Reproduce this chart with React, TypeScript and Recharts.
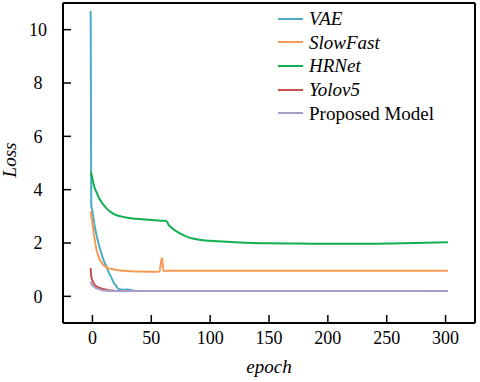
import React from "react";
import {
  LineChart,
  Line,
  XAxis,
  YAxis,
  Legend,
  ReferenceLine,
} from "recharts";

// epochs (curves start just left of 0, end just past 300)
const epochs = [
  -1.5, -1, 0, 1, 2, 3, 4, 6, 8, 10, 12, 14, 16, 18, 20, 22, 24, 27, 30, 34, 40,
  50, 57, 59, 60.5, 63, 64.5, 67, 71, 75, 80, 85, 92, 100, 125, 150, 175, 200,
  225, 250, 275, 302,
];

const vae = [
  10.7, 3.4, 3.2, 2.9, 2.6, 2.4, 2.2, 1.85, 1.55, 1.3, 1.1, 0.88, 0.72, 0.52,
  0.4, 0.28, 0.26, 0.25, 0.26, 0.22, 0.2, 0.2, 0.2, 0.2, 0.2, 0.2, 0.2, 0.2,
  0.2, 0.2, 0.2, 0.2, 0.2, 0.2, 0.2, 0.2, 0.2, 0.2, 0.2, 0.2, 0.2, 0.2,
];

const slowFast = [
  3.2, 3.05, 2.75, 2.4, 2.1, 1.85, 1.65, 1.4, 1.25, 1.15, 1.09, 1.05, 1.03,
  1.01, 0.99, 0.98, 0.97, 0.96, 0.95, 0.94, 0.93, 0.92, 0.93, 1.45, 0.95, 0.96,
  0.96, 0.96, 0.96, 0.96, 0.96, 0.96, 0.96, 0.96, 0.96, 0.96, 0.96, 0.96, 0.96,
  0.96, 0.96, 0.96,
];

const hrNet = [
  4.65, 4.6, 4.4, 4.2, 4.05, 3.95, 3.85, 3.65, 3.52, 3.4, 3.3, 3.22, 3.15,
  3.09, 3.05, 3.02, 3.0, 2.97, 2.95, 2.92, 2.9, 2.86, 2.84, 2.83, 2.83, 2.82,
  2.7, 2.58, 2.45, 2.34, 2.24, 2.17, 2.11, 2.08, 2.02, 1.99, 1.98, 1.97, 1.97,
  1.98, 2.0, 2.03,
];

const yolov5 = [
  1.06, 0.75, 0.6, 0.5, 0.43, 0.39, 0.36, 0.32, 0.29, 0.27, 0.25, 0.23, 0.22,
  0.21, 0.2, 0.2, 0.2, 0.2, 0.2, 0.2, 0.2, 0.2, 0.2, 0.2, 0.2, 0.2, 0.2, 0.2,
  0.2, 0.2, 0.2, 0.2, 0.2, 0.2, 0.2, 0.2, 0.2, 0.2, 0.2, 0.2, 0.2, 0.2,
];

const proposed = [
  0.56, 0.48, 0.42, 0.38, 0.34, 0.31, 0.29, 0.26, 0.23, 0.22, 0.21, 0.2, 0.2,
  0.2, 0.2, 0.2, 0.2, 0.2, 0.2, 0.2, 0.2, 0.2, 0.2, 0.2, 0.2, 0.2, 0.2, 0.2,
  0.2, 0.2, 0.2, 0.2, 0.2, 0.2, 0.2, 0.2, 0.2, 0.2, 0.2, 0.2, 0.2, 0.2,
];

const seriesNames = ["VAE", "SlowFast", "HRNet", "Yolov5", "Proposed Model"];
const xTicks = [0, 50, 100, 150, 200, 250, 300];
const yTicks = [0, 2, 4, 6, 8, 10];

const data = epochs.map((epoch, i) => ({
  epoch,
  vae: vae[i],
  slowFast: slowFast[i],
  hrNet: hrNet[i],
  yolov5: yolov5[i],
  proposed: proposed[i],
}));

const FONT = '"Liberation Serif", "Times New Roman", serif';

const renderLegend = (props: any) => {
  const items = [...(props.payload || [])].sort(
    (a: any, b: any) => seriesNames.indexOf(a.value) - seriesNames.indexOf(b.value)
  );
  return (
    <div style={{ fontFamily: FONT, fontSize: 19, color: "#000" }}>
      {items.map((p: any) => (
        <div
          key={p.value}
          style={{ display: "flex", alignItems: "center", height: 23.6 }}
        >
          <svg width={25} height={4}>
            <line x1={0} y1={2} x2={25} y2={2} stroke={p.color} strokeWidth={2} />
          </svg>
          <span
            style={{
              marginLeft: 6,
              fontStyle: p.value === "Proposed Model" ? "normal" : "italic",
              lineHeight: 1,
            }}
          >
            {p.value}
          </span>
        </div>
      ))}
    </div>
  );
};

export default function App() {
  return (
    <div style={{ position: "absolute", left: 0, top: 0, background: "#fff" }}>
      <LineChart
        width={480}
        height={382}
        data={data}
        margin={{ top: 3, right: 5, left: 0, bottom: 0 }}
      >
        <XAxis
          dataKey="epoch"
          type="number"
          domain={[-25, 325]}
          ticks={xTicks}
          allowDataOverflow
          height={59}
          axisLine={{ stroke: "#000", strokeWidth: 2 }}
          tickLine={{ stroke: "#000", strokeWidth: 1.5 }}
          tickSize={-8}
          tickMargin={16}
          tick={{ fill: "#000", fontSize: 18, fontFamily: FONT }}
          label={{
            content: (p: any) => {
              const vb = p.viewBox;
              return (
                <text
                  x={vb.x + vb.width / 2}
                  y={vb.y + 50}
                  textAnchor="middle"
                  fontFamily={FONT}
                  fontSize={19}
                  fontStyle="italic"
                  fill="#000"
                >
                  epoch
                </text>
              );
            },
          }}
        />
        <YAxis
          type="number"
          domain={[-1, 11]}
          ticks={yTicks}
          allowDataOverflow
          width={63}
          axisLine={{ stroke: "#000", strokeWidth: 2 }}
          tickLine={{ stroke: "#000", strokeWidth: 1.5 }}
          tickSize={-8}
          tickMargin={33}
          tick={{ fill: "#000", fontSize: 18, fontFamily: FONT, textAnchor: "middle" }}
          label={{
            content: (p: any) => {
              const vb = p.viewBox;
              const cx = 9;
              const cy = vb.y + vb.height / 2 - 3;
              return (
                <text
                  x={cx}
                  y={cy}
                  transform={`rotate(-90 ${cx} ${cy})`}
                  textAnchor="middle"
                  dominantBaseline="central"
                  fontFamily={FONT}
                  fontSize={19}
                  fontStyle="italic"
                  fill="#000"
                >
                  Loss
                </text>
              );
            },
          }}
        />
        <ReferenceLine y={11} stroke="#000" strokeWidth={2} />
        <ReferenceLine x={325} stroke="#000" strokeWidth={2} />
        <Legend
          layout="vertical"
          align="center"
          verticalAlign="middle"
          itemSorter={null as any}
          content={renderLegend}
          wrapperStyle={{ left: 278, top: 7, width: 190, height: 120 }}
        />
        <Line type="monotone" dataKey="vae" name="VAE" stroke="#4bacc6" strokeWidth={2} dot={false} isAnimationActive={false} />
        <Line type="monotone" dataKey="slowFast" name="SlowFast" stroke="#f79a55" strokeWidth={2} dot={false} isAnimationActive={false} />
        <Line type="monotone" dataKey="hrNet" name="HRNet" stroke="#10b050" strokeWidth={2} dot={false} isAnimationActive={false} />
        <Line type="monotone" dataKey="yolov5" name="Yolov5" stroke="#c9504d" strokeWidth={2} dot={false} isAnimationActive={false} />
        <Line type="monotone" dataKey="proposed" name="Proposed Model" stroke="#a99cc9" strokeWidth={2} dot={false} isAnimationActive={false} />
      </LineChart>
    </div>
  );
}
